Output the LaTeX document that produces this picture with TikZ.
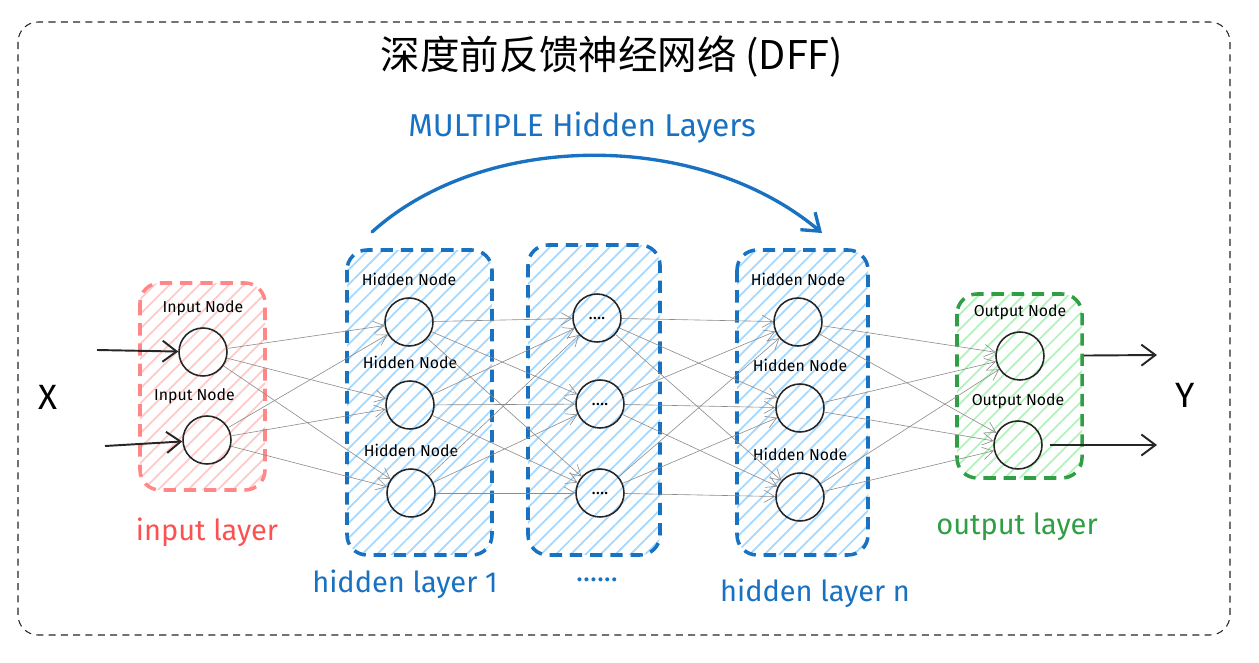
\documentclass[tikz,border=0pt]{standalone}
\usepackage{fontspec}
\setmainfont{Fira Sans}
\newfontfamily\cjkfont{Noto Sans CJK SC}
\usetikzlibrary{positioning, arrows.meta, patterns.meta}
\definecolor{inred}{HTML}{FF8787}
\definecolor{inredtxt}{HTML}{FA5252}
\definecolor{hidblue}{HTML}{1971C2}
\definecolor{outgreen}{HTML}{2F9E44}
\definecolor{hatchred}{HTML}{FFC9C9}
\definecolor{hatchblue}{HTML}{A5D8FF}
\definecolor{hatchgreen}{HTML}{B2F2BB}

\tikzset{
	neuron/.style={circle, draw=black!85, line width=0.9pt, minimum size=0.96cm, inner sep=0pt},
	nodetxt/.style={font=\fontsize{9}{10}\selectfont, inner sep=0pt},
	layertxt/.style={font=\fontsize{16.5}{18}\selectfont, inner sep=0pt},
	layerbox/.style={rounded corners=0.4cm, line width=2pt, dash pattern=on 7pt off 4.5pt},
	hatch/.style={pattern={Lines[angle=45,distance=6pt,line width=1pt]}, pattern color=#1},
	wire/.style={draw=gray!90, line width=0.35pt, -{Straight Barb[length=6pt,width=7pt]}},
	inarrow/.style={draw=black!85, line width=1.1pt, -{Straight Barb[length=8pt,width=12pt]}}
}

\begin{document}
\begin{tikzpicture}[x=0.02cm, y=-0.02cm]
	\useasboundingbox (0,0) rectangle (1259,663);
	
	%frame
	\draw[black!85, line width=0.6pt, dash pattern=on 4pt off 3pt, rounded corners=0.4cm] (18,22) rectangle (1230,635);
	\node (title) at (612,57) {\cjkfont\fontsize{22.5}{24}\selectfont 深度前反馈神经网络 (DFF)};
	
	%layer boxes
	\draw[layerbox, draw=inred, hatch=hatchred] (140,283) rectangle (265,490);
	\draw[layerbox, draw=hidblue, hatch=hatchblue] (347,250) rectangle (492,555);
	\draw[layerbox, draw=hidblue, hatch=hatchblue] (528,245) rectangle (660,555);
	\draw[layerbox, draw=hidblue, hatch=hatchblue] (737,250) rectangle (868,555);
	\draw[layerbox, draw=outgreen, hatch=hatchgreen] (957,294) rectangle (1082,478);
	
	%input
	\node[neuron] (in1) at (203,352) {};
	\node[neuron] (in2) at (207,440) {};
	\node[nodetxt, above=0.22cm of in1] (in1t) {Input Node};
	\node[nodetxt, above=0.22cm of in2, xshift=-0.25cm] (in2t) {Input Node};
	
	%hidden layer 1
	\node[neuron] (ha1) at (409,322) {};
	\node[neuron] (ha2) at (410,405) {};
	\node[neuron] (ha3) at (411,493) {};
	\foreach \i in {1,2,3}
		\node[nodetxt, above=0.22cm of ha\i] (ha\i t) {Hidden Node};
	
	%middle
	\node[neuron] (hm1) at (597,318) {....};
	\node[neuron] (hm2) at (600,404) {....};
	\node[neuron] (hm3) at (600,493) {....};
	
	%hidden layer n
	\node[neuron] (hb1) at (798,322) {};
	\node[neuron] (hb2) at (800,408) {};
	\node[neuron] (hb3) at (800,497) {};
	\foreach \i in {1,2,3}
		\node[nodetxt, above=0.22cm of hb\i] (hb\i t) {Hidden Node};
	
	%output
	\node[neuron] (out1) at (1020,356) {};
	\node[neuron] (out2) at (1018,445) {};
	\node[nodetxt, above=0.22cm of out1] (out1t) {Output Node};
	\node[nodetxt, above=0.22cm of out2] (out2t) {Output Node};
	
	%wires
	\foreach \i in {1,2}
		\foreach \j in {1,2,3}
			\draw[wire] (in\i) -- (ha\j);
	\foreach \i in {1,2,3}
		\foreach \j in {1,2,3}
		{
			\draw[wire] (ha\i) -- (hm\j);
			\draw[wire] (hm\i) -- (hb\j);
		}
	\foreach \i in {1,2,3}
		\foreach \j in {1,2}
			\draw[wire] (hb\i) -- (out\j);
	
	%X and Y
	\node[font=\fontsize{20}{22}\selectfont] (xin) at (48,397) {X};
	\node[font=\fontsize{20}{22}\selectfont] (yout) at (1185,395) {Y};
	\coordinate (x1) at (97,350);
	\coordinate (x2) at (105,446);
	\coordinate (y1) at (1157,355);
	\coordinate (y2) at (1157,445);
	\draw[inarrow] (x1) -- (in1);
	\draw[inarrow] (x2) -- (in2);
	\draw[inarrow, shorten <=0.78cm] (out1) -- (y1);
	\draw[inarrow, shorten <=0.14cm] (out2) -- (y2);
	
	%labels
	\node[layertxt, text=inredtxt] (inlab) at (207,532) {input layer};
	\node[layertxt, text=hidblue] (halab) at (405,584) {hidden layer 1};
	\node[layertxt, text=hidblue] (hmlab) at (597,580) {......};
	\node[layertxt, text=hidblue] (hblab) at (815,593) {hidden layer n};
	\node[layertxt, text=outgreen] (outlab) at (1017,527) {output layer};
	
	%multiple layers
	\node[layertxt, font=\fontsize{18}{20}\selectfont, text=hidblue] (multi) at (582,128) {MULTIPLE Hidden Layers};
	\coordinate (mstart) at (372,232);
	\coordinate (mend) at (822,233);
	\draw[hidblue, line width=1.9pt, line cap=round, -{Straight Barb[length=9pt,width=13pt]}] (mstart) .. controls (485,130) and (700,130) .. (mend);
\end{tikzpicture}
\end{document}
